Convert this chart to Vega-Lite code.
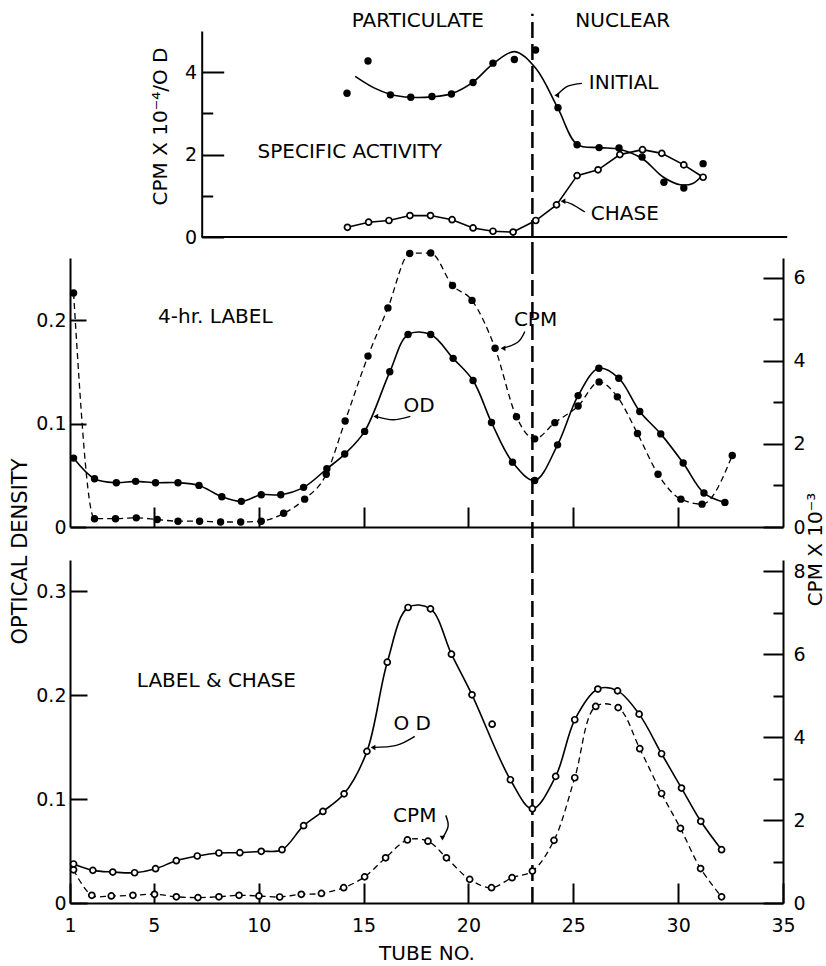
{
 "$schema": "https://vega.github.io/schema/vega-lite/v6.json",
 "background": "white",
 "padding": {"left": 9, "top": 10, "right": 0, "bottom": 0},
 "config": {
  "view": {"stroke": null},
  "font": "DejaVu Sans",
  "axis": {"grid": false, "domainColor": "black", "domainWidth": 2, "tickColor": "black", "tickWidth": 2, "labelColor": "black", "labelFont": "DejaVu Sans", "labelFontSize": 19, "titleColor": "black", "titleFont": "DejaVu Sans", "titleFontSize": 20, "titleFontWeight": "normal", "labelFlush": false, "labelOverlap": false},
  "text": {"font": "DejaVu Sans", "fontSize": 20, "color": "black"}
 },
 "datasets": {
  "sa": [
   {"tube": 14.21, "v": 3.49, "s": "INITIAL"}, {"tube": 15.21, "v": 4.27, "s": "INITIAL"}, {"tube": 16.28, "v": 3.45, "s": "INITIAL"},
   {"tube": 17.25, "v": 3.39, "s": "INITIAL"}, {"tube": 18.26, "v": 3.41, "s": "INITIAL"}, {"tube": 19.19, "v": 3.47, "s": "INITIAL"},
   {"tube": 20.22, "v": 3.75, "s": "INITIAL"}, {"tube": 21.17, "v": 4.22, "s": "INITIAL"}, {"tube": 22.19, "v": 4.31, "s": "INITIAL"},
   {"tube": 23.2, "v": 4.54, "s": "INITIAL"}, {"tube": 24.27, "v": 3.14, "s": "INITIAL"}, {"tube": 25.18, "v": 2.24, "s": "INITIAL"},
   {"tube": 26.23, "v": 2.17, "s": "INITIAL"}, {"tube": 27.18, "v": 2.16, "s": "INITIAL"}, {"tube": 28.28, "v": 1.94, "s": "INITIAL"},
   {"tube": 29.32, "v": 1.33, "s": "INITIAL"}, {"tube": 30.27, "v": 1.19, "s": "INITIAL"}, {"tube": 31.19, "v": 1.78, "s": "INITIAL"},
   {"tube": 14.23, "v": 0.235, "s": "CHASE"}, {"tube": 15.24, "v": 0.36, "s": "CHASE"}, {"tube": 16.21, "v": 0.4, "s": "CHASE"},
   {"tube": 17.21, "v": 0.52, "s": "CHASE"}, {"tube": 18.19, "v": 0.52, "s": "CHASE"}, {"tube": 19.22, "v": 0.42, "s": "CHASE"},
   {"tube": 20.22, "v": 0.22, "s": "CHASE"}, {"tube": 21.17, "v": 0.14, "s": "CHASE"}, {"tube": 22.13, "v": 0.12, "s": "CHASE"},
   {"tube": 23.21, "v": 0.4, "s": "CHASE"}, {"tube": 24.2, "v": 0.78, "s": "CHASE"}, {"tube": 25.18, "v": 1.49, "s": "CHASE"},
   {"tube": 26.18, "v": 1.63, "s": "CHASE"}, {"tube": 27.22, "v": 2.0, "s": "CHASE"}, {"tube": 28.3, "v": 2.12, "s": "CHASE"},
   {"tube": 29.22, "v": 2.03, "s": "CHASE"}, {"tube": 30.27, "v": 1.75, "s": "CHASE"}, {"tube": 31.19, "v": 1.45, "s": "CHASE"}
  ],
  "saFit": [
   {"tube": 14.6, "v": 3.9}, {"tube": 15.5, "v": 3.62}, {"tube": 16.3, "v": 3.46}, {"tube": 17.25, "v": 3.39}, {"tube": 18.26, "v": 3.4},
   {"tube": 19.2, "v": 3.48}, {"tube": 20.22, "v": 3.76}, {"tube": 21.17, "v": 4.2}, {"tube": 22.2, "v": 4.5}, {"tube": 23.2, "v": 4.1},
   {"tube": 24.27, "v": 3.12}, {"tube": 25.18, "v": 2.25}, {"tube": 26.23, "v": 2.17}, {"tube": 27.2, "v": 2.13}, {"tube": 28.3, "v": 1.9},
   {"tube": 29.3, "v": 1.45}, {"tube": 30.1, "v": 1.27}, {"tube": 30.7, "v": 1.3}, {"tube": 31.15, "v": 1.5}
  ],
  "h4od": [
   {"tube": 1.17, "v": 0.0666}, {"tube": 2.17, "v": 0.0466}, {"tube": 3.21, "v": 0.0428}, {"tube": 4.13, "v": 0.0441}, {"tube": 5.08, "v": 0.0428},
   {"tube": 6.15, "v": 0.0428}, {"tube": 7.15, "v": 0.0402}, {"tube": 8.24, "v": 0.0293}, {"tube": 9.17, "v": 0.0248}, {"tube": 10.12, "v": 0.0312},
   {"tube": 11.05, "v": 0.0312}, {"tube": 12.14, "v": 0.0383}, {"tube": 13.25, "v": 0.0563}, {"tube": 14.1, "v": 0.0705}, {"tube": 15.05, "v": 0.0924},
   {"tube": 16.25, "v": 0.15}, {"tube": 17.12, "v": 0.186}, {"tube": 18.2, "v": 0.186}, {"tube": 19.27, "v": 0.163}, {"tube": 20.22, "v": 0.1416},
   {"tube": 21.1, "v": 0.101}, {"tube": 22.1, "v": 0.0627}, {"tube": 23.16, "v": 0.045}, {"tube": 24.25, "v": 0.0794}, {"tube": 25.23, "v": 0.127},
   {"tube": 26.22, "v": 0.1535}, {"tube": 27.17, "v": 0.1438}, {"tube": 28.17, "v": 0.1117}, {"tube": 29.17, "v": 0.09}, {"tube": 30.24, "v": 0.0618},
   {"tube": 31.23, "v": 0.0328}, {"tube": 32.23, "v": 0.0238}
  ],
  "h4cpm": [
   {"tube": 1.17, "v": 5.63}, {"tube": 2.17, "v": 0.2}, {"tube": 3.17, "v": 0.2}, {"tube": 4.16, "v": 0.22}, {"tube": 5.16, "v": 0.18},
   {"tube": 6.15, "v": 0.14}, {"tube": 7.18, "v": 0.14}, {"tube": 8.18, "v": 0.12}, {"tube": 9.14, "v": 0.12}, {"tube": 10.12, "v": 0.14},
   {"tube": 11.19, "v": 0.33}, {"tube": 12.19, "v": 0.67}, {"tube": 13.22, "v": 1.27}, {"tube": 14.12, "v": 2.55}, {"tube": 15.21, "v": 4.11},
   {"tube": 16.16, "v": 5.27}, {"tube": 17.2, "v": 6.58}, {"tube": 18.2, "v": 6.59}, {"tube": 19.24, "v": 5.81}, {"tube": 20.17, "v": 5.45},
   {"tube": 21.27, "v": 4.3}, {"tube": 22.29, "v": 2.65}, {"tube": 23.16, "v": 2.12}, {"tube": 24.12, "v": 2.51}, {"tube": 25.23, "v": 2.91},
   {"tube": 26.23, "v": 3.49}, {"tube": 27.1, "v": 3.13}, {"tube": 28.06, "v": 2.25}, {"tube": 29.04, "v": 1.27}, {"tube": 30.13, "v": 0.67},
   {"tube": 31.14, "v": 0.55}, {"tube": 32.58, "v": 1.72}
  ],
  "lcod": [
   {"tube": 1.17, "v": 0.0375, "fit": true}, {"tube": 2.09, "v": 0.0314, "fit": true}, {"tube": 3.04, "v": 0.0298, "fit": true},
   {"tube": 4.08, "v": 0.0291, "fit": true}, {"tube": 5.08, "v": 0.033, "fit": true}, {"tube": 6.07, "v": 0.0407, "fit": true},
   {"tube": 7.07, "v": 0.0452, "fit": true}, {"tube": 8.1, "v": 0.0481, "fit": true}, {"tube": 9.1, "v": 0.0484, "fit": true},
   {"tube": 10.12, "v": 0.0497, "fit": true}, {"tube": 11.11, "v": 0.0513, "fit": true}, {"tube": 12.14, "v": 0.0744, "fit": true},
   {"tube": 13.06, "v": 0.0881, "fit": true}, {"tube": 14.07, "v": 0.105, "fit": true}, {"tube": 15.16, "v": 0.1459, "fit": true},
   {"tube": 16.13, "v": 0.2317, "fit": true}, {"tube": 17.12, "v": 0.2843, "fit": true}, {"tube": 18.19, "v": 0.283, "fit": true},
   {"tube": 19.19, "v": 0.2394, "fit": true}, {"tube": 20.17, "v": 0.2003, "fit": true}, {"tube": 21.13, "v": 0.172, "fit": false},
   {"tube": 22.0, "v": 0.1186, "fit": true}, {"tube": 23.05, "v": 0.0907, "fit": true}, {"tube": 24.16, "v": 0.1218, "fit": true},
   {"tube": 25.07, "v": 0.1763, "fit": true}, {"tube": 26.17, "v": 0.2058, "fit": true}, {"tube": 27.11, "v": 0.2041, "fit": true},
   {"tube": 28.14, "v": 0.1817, "fit": true}, {"tube": 29.21, "v": 0.1436, "fit": true}, {"tube": 30.16, "v": 0.1106, "fit": true},
   {"tube": 31.08, "v": 0.0786, "fit": true}, {"tube": 32.07, "v": 0.0513, "fit": true}
  ],
  "lccpm": [
   {"tube": 1.17, "v": 0.8}, {"tube": 2.04, "v": 0.185}, {"tube": 2.97, "v": 0.17}, {"tube": 4.0, "v": 0.185}, {"tube": 5.03, "v": 0.21},
   {"tube": 6.07, "v": 0.15}, {"tube": 7.1, "v": 0.13}, {"tube": 8.1, "v": 0.15}, {"tube": 9.06, "v": 0.185}, {"tube": 10.01, "v": 0.17},
   {"tube": 11.0, "v": 0.145}, {"tube": 12.03, "v": 0.21}, {"tube": 12.99, "v": 0.23}, {"tube": 14.05, "v": 0.37}, {"tube": 15.05, "v": 0.63},
   {"tube": 16.05, "v": 1.09}, {"tube": 17.09, "v": 1.52}, {"tube": 18.07, "v": 1.49}, {"tube": 18.95, "v": 1.09}, {"tube": 20.06, "v": 0.57},
   {"tube": 21.1, "v": 0.37}, {"tube": 22.08, "v": 0.61}, {"tube": 23.05, "v": 0.77}, {"tube": 24.08, "v": 1.51}, {"tube": 25.07, "v": 3.02},
   {"tube": 26.07, "v": 4.74}, {"tube": 27.14, "v": 4.71}, {"tube": 28.17, "v": 3.72}, {"tube": 29.21, "v": 2.64}, {"tube": 30.11, "v": 1.8},
   {"tube": 31.07, "v": 0.83}, {"tube": 32.07, "v": 0.15}
  ],
  "base": [{"panel": "top", "tube": 7.28, "tube2": 35.2, "v": 0}],
  "divider": [
   {"panel": "top", "tube": 23.05, "v": -0.51, "v2": 5.42},
   {"panel": "mid", "tube": 23.05, "v": -0.032, "v2": 0.26},
   {"panel": "bot", "tube": 23.05, "v": 0, "v2": 0.33}
  ],
  "notes": [
   {"panel": "top", "tube": 17.59, "v": 5.25, "label": "PARTICULATE"},
   {"panel": "top", "tube": 27.36, "v": 5.25, "label": "NUCLEAR"},
   {"panel": "top", "tube": 27.4, "v": 3.75, "label": "INITIAL"},
   {"panel": "top", "tube": 27.46, "v": 0.57, "label": "CHASE"},
   {"panel": "top", "tube": 14.34, "v": 2.06, "label": "SPECIFIC ACTIVITY"},
   {"panel": "mid", "tube": 7.93, "v": 0.2034, "label": "4-hr. LABEL"},
   {"panel": "mid", "tube": 23.2, "v": 0.2001, "label": "CPM"},
   {"panel": "mid", "tube": 17.65, "v": 0.1165, "label": "OD"},
   {"panel": "bot", "tube": 7.98, "v": 0.214, "label": "LABEL & CHASE"},
   {"panel": "bot", "tube": 17.32, "v": 0.172, "label": "O D"},
   {"panel": "bot", "tube": 17.44, "v": 0.0833, "label": "CPM"}
  ],
  "arrows": [
   {"panel": "top", "id": "a1", "k": 1, "tube": 25.41, "v": 3.73}, {"panel": "top", "id": "a1", "k": 2, "tube": 24.74, "v": 3.66}, {"panel": "top", "id": "a1", "k": 3, "tube": 24.21, "v": 3.44},
   {"panel": "top", "id": "a2", "k": 1, "tube": 25.55, "v": 0.606}, {"panel": "top", "id": "a2", "k": 2, "tube": 24.93, "v": 0.8}, {"panel": "top", "id": "a2", "k": 3, "tube": 24.51, "v": 0.865},
   {"panel": "mid", "id": "a3", "k": 1, "tube": 22.69, "v": 0.189}, {"panel": "mid", "id": "a3", "k": 2, "tube": 22.35, "v": 0.1786}, {"panel": "mid", "id": "a3", "k": 3, "tube": 21.65, "v": 0.1728},
   {"panel": "mid", "id": "a4", "k": 1, "tube": 17.23, "v": 0.1069}, {"panel": "mid", "id": "a4", "k": 2, "tube": 16.4, "v": 0.1036}, {"panel": "mid", "id": "a4", "k": 3, "tube": 15.58, "v": 0.1069},
   {"panel": "bot", "id": "a5", "k": 1, "tube": 17.44, "v": 0.1603}, {"panel": "bot", "id": "a5", "k": 2, "tube": 16.56, "v": 0.1516}, {"panel": "bot", "id": "a5", "k": 3, "tube": 15.45, "v": 0.1497},
   {"panel": "bot", "id": "a6", "k": 1, "tube": 18.92, "v": 0.0843}, {"panel": "bot", "id": "a6", "k": 2, "tube": 19.03, "v": 0.0737}, {"panel": "bot", "id": "a6", "k": 3, "tube": 18.76, "v": 0.0625}
  ],
  "tips": [
   {"panel": "top", "tube": 24.21, "v": 3.44, "dir": "left"},
   {"panel": "top", "tube": 24.51, "v": 0.865, "dir": "left"},
   {"panel": "mid", "tube": 21.65, "v": 0.1728, "dir": "left"},
   {"panel": "mid", "tube": 15.58, "v": 0.1069, "dir": "left"},
   {"panel": "bot", "tube": 15.45, "v": 0.1497, "dir": "left"},
   {"panel": "bot", "tube": 18.76, "v": 0.0625, "dir": "down"}
  ]
 },
 "spacing": 21,
 "bounds": "flush",
 "vconcat": [
  {
   "width": 713, "height": 206,
   "encoding": {
    "x": {"field": "tube", "type": "quantitative", "scale": {"domain": [1, 35], "nice": false, "zero": false}, "axis": null},
    "y": {"field": "v", "type": "quantitative", "scale": {"domain": [0, 5], "nice": false, "zero": false},
     "axis": {"orient": "left", "offset": -131.7, "values": [0, 1, 2, 3, 4], "labelExpr": "datum.value % 2 === 0 ? datum.label : ''",
      "tickSize": {"condition": {"test": "datum.value % 2 === 0", "value": -22}, "value": -11}, "labelPadding": 27,
      "title": "CPM X 10⁻⁴/O D", "titlePadding": 14, "titleY": 95}}
   },
   "layer": [
    {"data": {"name": "base"}, "mark": {"type": "rule", "color": "black", "strokeWidth": 2}, "encoding": {"x2": {"field": "tube2"}}},
    {"data": {"name": "divider"}, "transform": [{"filter": "datum.panel === 'top'"}], "mark": {"type": "rule", "color": "black", "strokeWidth": 2.5, "strokeDash": [16, 6]}, "encoding": {"y2": {"field": "v2"}}},
    {"data": {"name": "saFit"}, "mark": {"type": "line", "color": "black", "strokeWidth": 1.6, "interpolate": "catmull-rom"}},
    {"data": {"name": "sa"}, "transform": [{"filter": "datum.s === 'CHASE'"}], "mark": {"type": "line", "color": "black", "strokeWidth": 1.6}},
    {"data": {"name": "sa"}, "transform": [{"filter": "datum.s === 'INITIAL'"}], "mark": {"type": "circle", "color": "black", "size": 55, "opacity": 1}},
    {"data": {"name": "sa"}, "transform": [{"filter": "datum.s === 'CHASE'"}], "mark": {"type": "point", "shape": "circle", "filled": true, "fill": "white", "stroke": "black", "strokeWidth": 1.7, "size": 36, "opacity": 1}},
    {"data": {"name": "notes"}, "transform": [{"filter": "datum.panel === 'top'"}], "mark": {"type": "text", "align": "center", "baseline": "middle"}, "encoding": {"text": {"field": "label"}}},
    {"data": {"name": "arrows"}, "transform": [{"filter": "datum.panel === 'top'"}], "mark": {"type": "line", "color": "black", "strokeWidth": 1.4, "interpolate": "cardinal"}, "encoding": {"detail": {"field": "id"}, "order": {"field": "k"}}},
    {"data": {"name": "tips"}, "transform": [{"filter": "datum.panel === 'top'"}], "mark": {"type": "point", "filled": true, "color": "black", "size": 30, "opacity": 1},
     "encoding": {"shape": {"field": "dir", "type": "nominal", "scale": {"domain": ["left", "down"], "range": ["triangle-left", "triangle-down"]}, "legend": null}}}
   ]
  },
  {
   "spacing": 33,
   "bounds": "flush",
   "vconcat": [
    {
     "width": 713, "height": 269,
     "layer": [
      {
       "encoding": {
        "x": {"field": "tube", "type": "quantitative", "scale": {"domain": [1, 35], "nice": false, "zero": false}, "axis": {"values": [5, 10, 15, 20, 25, 30], "labels": false, "tickSize": -20, "title": null}},
        "y": {"field": "v", "type": "quantitative", "scale": {"domain": [0, 0.26], "nice": false, "zero": false},
         "axis": {"orient": "left", "values": [0, 0.1, 0.2], "labelExpr": "datum.value === 0 ? '0' : format(datum.value, '.1f')", "tickSize": -16, "labelPadding": 20, "title": null}}
       },
       "layer": [
        {"data": {"name": "divider"}, "transform": [{"filter": "datum.panel === 'mid'"}], "mark": {"type": "rule", "color": "black", "strokeWidth": 2.5, "strokeDash": [16, 6]}, "encoding": {"y2": {"field": "v2"}}},
        {"data": {"name": "h4od"}, "mark": {"type": "line", "color": "black", "strokeWidth": 1.6, "interpolate": "catmull-rom"}},
        {"data": {"name": "h4od"}, "mark": {"type": "circle", "color": "black", "size": 55, "opacity": 1}},
        {"data": {"name": "notes"}, "transform": [{"filter": "datum.panel === 'mid'"}], "mark": {"type": "text", "align": "center", "baseline": "middle"}, "encoding": {"text": {"field": "label"}}},
        {"data": {"name": "arrows"}, "transform": [{"filter": "datum.panel === 'mid'"}], "mark": {"type": "line", "color": "black", "strokeWidth": 1.4, "interpolate": "cardinal"}, "encoding": {"detail": {"field": "id"}, "order": {"field": "k"}}},
        {"data": {"name": "tips"}, "transform": [{"filter": "datum.panel === 'mid'"}], "mark": {"type": "point", "filled": true, "color": "black", "size": 30, "opacity": 1},
         "encoding": {"shape": {"field": "dir", "type": "nominal", "scale": {"domain": ["left", "down"], "range": ["triangle-left", "triangle-down"]}, "legend": null}}}
       ]
      },
      {
       "encoding": {
        "x": {"field": "tube", "type": "quantitative", "scale": {"domain": [1, 35], "nice": false, "zero": false}, "axis": {"values": [5, 10, 15, 20, 25, 30], "labels": false, "tickSize": -20, "title": null}},
        "y": {"field": "v", "type": "quantitative", "scale": {"domain": [0, 6.47], "nice": false, "zero": false},
         "axis": {"orient": "right", "values": [0, 1, 2, 3, 4, 5, 6], "labelExpr": "datum.value % 2 === 0 ? datum.label : ''",
          "tickSize": {"condition": {"test": "datum.value % 2 === 0", "value": -20}, "value": -10}, "labelPadding": 30, "title": null}}
       },
       "layer": [
        {"data": {"name": "h4cpm"}, "mark": {"type": "line", "color": "black", "strokeWidth": 1.3, "strokeDash": [6, 4], "interpolate": "monotone"}},
        {"data": {"name": "h4cpm"}, "mark": {"type": "circle", "color": "black", "size": 55, "opacity": 1}}
       ]
      }
     ],
     "resolve": {"scale": {"y": "independent"}, "axis": {"y": "independent"}}
    },
    {
     "width": 713, "height": 343,
     "layer": [
      {
       "encoding": {
        "x": {"field": "tube", "type": "quantitative", "scale": {"domain": [1, 35], "nice": false, "zero": false},
         "axis": {"values": [1, 5, 10, 15, 20, 25, 30, 35], "tickSize": -20, "labelPadding": 33, "title": "TUBE  NO.", "titlePadding": 8}},
        "y": {"field": "v", "type": "quantitative", "scale": {"domain": [0, 0.33], "nice": false, "zero": false},
         "axis": {"orient": "left", "values": [0, 0.1, 0.2, 0.3], "labelExpr": "datum.value === 0 ? '0' : format(datum.value, '.1f')", "tickSize": -17, "labelPadding": 21,
          "title": "OPTICAL DENSITY", "titleFontSize": 21, "titlePadding": 5, "titleY": -9}}
       },
       "layer": [
        {"data": {"name": "divider"}, "transform": [{"filter": "datum.panel === 'bot'"}], "mark": {"type": "rule", "color": "black", "strokeWidth": 2.5, "strokeDash": [16, 6]}, "encoding": {"y2": {"field": "v2"}}},
        {"data": {"name": "lcod"}, "transform": [{"filter": "datum.fit"}], "mark": {"type": "line", "color": "black", "strokeWidth": 1.6, "interpolate": "catmull-rom"}},
        {"data": {"name": "lcod"}, "mark": {"type": "point", "shape": "circle", "filled": true, "fill": "white", "stroke": "black", "strokeWidth": 1.7, "size": 36, "opacity": 1}},
        {"data": {"name": "notes"}, "transform": [{"filter": "datum.panel === 'bot'"}], "mark": {"type": "text", "align": "center", "baseline": "middle"}, "encoding": {"text": {"field": "label"}}},
        {"data": {"name": "arrows"}, "transform": [{"filter": "datum.panel === 'bot'"}], "mark": {"type": "line", "color": "black", "strokeWidth": 1.4, "interpolate": "cardinal"}, "encoding": {"detail": {"field": "id"}, "order": {"field": "k"}}},
        {"data": {"name": "tips"}, "transform": [{"filter": "datum.panel === 'bot'"}], "mark": {"type": "point", "filled": true, "color": "black", "size": 30, "opacity": 1},
         "encoding": {"shape": {"field": "dir", "type": "nominal", "scale": {"domain": ["left", "down"], "range": ["triangle-left", "triangle-down"]}, "legend": null}}}
       ]
      },
      {
       "encoding": {
        "x": {"field": "tube", "type": "quantitative", "scale": {"domain": [1, 35], "nice": false, "zero": false},
         "axis": {"values": [1, 5, 10, 15, 20, 25, 30, 35], "tickSize": -20, "labelPadding": 33, "title": "TUBE  NO.", "titlePadding": 8}},
        "y": {"field": "v", "type": "quantitative", "scale": {"domain": [0, 8.27], "nice": false, "zero": false},
         "axis": {"orient": "right", "values": [0, 1, 2, 3, 4, 5, 6, 7, 8], "labelExpr": "datum.value % 2 === 0 ? datum.label : ''",
          "tickSize": {"condition": {"test": "datum.value % 2 === 0", "value": -20}, "value": -10}, "labelPadding": 30,
          "title": "CPM X 10⁻³", "titleAngle": 270, "titleBaseline": "top", "titlePadding": 0, "titleY": -11}}
       },
       "layer": [
        {"data": {"name": "lccpm"}, "mark": {"type": "line", "color": "black", "strokeWidth": 1.3, "strokeDash": [6, 4], "interpolate": "catmull-rom"}},
        {"data": {"name": "lccpm"}, "mark": {"type": "point", "shape": "circle", "filled": true, "fill": "white", "stroke": "black", "strokeWidth": 1.7, "size": 36, "opacity": 1}}
       ]
      }
     ],
     "resolve": {"scale": {"y": "independent"}, "axis": {"y": "independent"}}
    }
   ]
  }
 ]
}
